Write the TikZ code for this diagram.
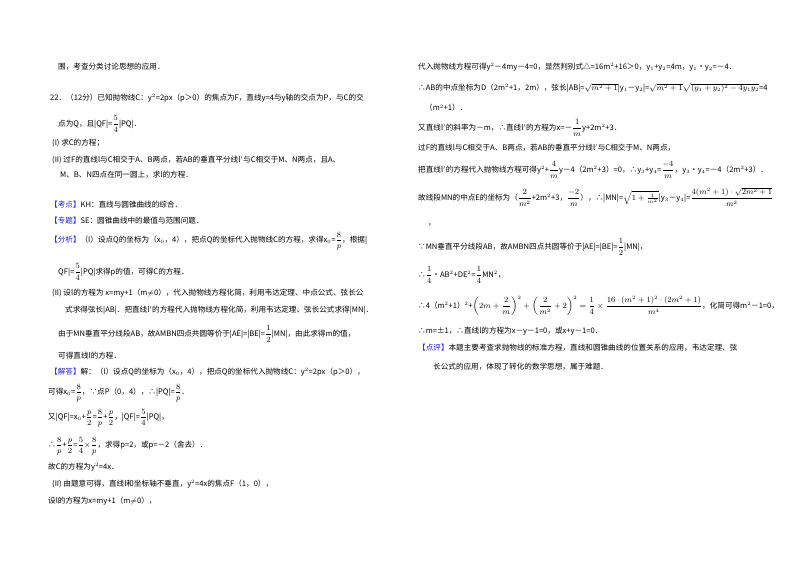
\documentclass[tikz,border=0pt]{standalone}
\usepackage{fontspec}
\setmainfont{Noto Sans CJK SC}
\usepackage{amsmath}
\definecolor{kb}{RGB}{30,30,230}
\newcommand{\kt}[1]{\textcolor{kb}{【#1】}}
\newcommand{\fr}[2]{\ensuremath{\dfrac{#1}{#2}}}
\begin{document}
\begin{tikzpicture}[x=1pt,y=-1pt,t/.style={anchor=west,inner sep=0,font=\fontsize{7.6}{9}\selectfont}]
\useasboundingbox (0,0) rectangle (800,565);
\fill[white] (0,0) rectangle (800,565);
% left column
\node[t] (l1) at (58,67) {围，考查分类讨论思想的应用．};
\node[t] (l2) at (50,98) {22．（12分）已知抛物线C：y$^2$=2px（p＞0）的焦点为F，直线y=4与y轴的交点为P，与C的交};
\node[t] (l3) at (58,124) {点为Q，且|QF|=\fr{5}{4}|PQ|．};
\node[t] (l4) at (52,143) {(I) 求C的方程；};
\node[t] (l5) at (52,160) {(II) 过F的直线l与C相交于A、B两点，若AB的垂直平分线l$'$与C相交于M、N两点，且A、};
\node[t] (l6) at (60,175) {M、B、N四点在同一圆上，求l的方程．};
\node[t] (l7) at (50,205) {\kt{考点}KH：直线与圆锥曲线的综合．};
\node[t] (l8) at (50,221) {\kt{专题}SE：圆锥曲线中的最值与范围问题．};
\node[t] (l9) at (50,241) {\kt{分析}（I）设点Q的坐标为（x$_0$，4），把点Q的坐标代入抛物线C的方程，求得x$_0$=\fr{8}{p}，根据|};
\node[t] (l10) at (58,272) {QF|=\fr{5}{4}|PQ|求得p的值，可得C的方程．};
\node[t] (l11) at (52,293) {(II) 设l的方程为 x=my+1（m$\neq$0），代入抛物线方程化简，利用韦达定理、中点公式、弦长公};
\node[t] (l12) at (65,310) {式求得弦长|AB|．把直线l$'$的方程代入抛物线方程化简，利用韦达定理、弦长公式求得|MN|．};
\node[t] (l13) at (58,334) {由于MN垂直平分线段AB，故AMBN四点共圆等价于|AE|=|BE|=\fr{1}{2}|MN|，由此求得m的值，};
\node[t] (l14) at (58,356) {可得直线l的方程．};
\node[t] (l15) at (50,372) {\kt{解答}解：（I）设点Q的坐标为（x$_0$，4），把点Q的坐标代入抛物线C：y$^2$=2px（p＞0），};
\node[t] (l16) at (48,393) {可得x$_0$=\fr{8}{p}，∵点P（0，4），∴|PQ|=\fr{8}{p}．};
\node[t] (l17) at (48,418) {又|QF|=x$_0$+\fr{p}{2}=\fr{8}{p}+\fr{p}{2}，|QF|=\fr{5}{4}|PQ|，};
\node[t] (l18) at (48,446) {∴\fr{8}{p}+\fr{p}{2}=\fr{5}{4}$\times$\fr{8}{p}，求得p=2，或p=－2（舍去）．};
\node[t] (l19) at (48,467) {故C的方程为y$^2$=4x．};
\node[t] (l20) at (52,484) {(II) 由题意可得，直线l和坐标轴不垂直，y$^2$=4x的焦点F（1，0），};
\node[t] (l21) at (48,501) {设l的方程为x=my+1（m$\neq$0），};
% right column
\node[t] (r1) at (418,67) {代入抛物线方程可得y$^2$－4my－4=0，显然判别式△=16m$^2$+16＞0，y$_1$+y$_2$=4m，y$_1$•y$_2$=－4．};
\node[t] (r2) at (418,88) {∴AB的中点坐标为D（2m$^2$+1，2m），弦长|AB|=$\sqrt{m^2+1}$|y$_1$－y$_2$|=$\sqrt{m^2+1}\sqrt{(y_1+y_2)^2-4y_1y_2}$=4};
\node[t] (r3) at (425,108) {（m$^2$+1）．};
\node[t] (r4) at (418,128) {又直线l$'$的斜率为－m，∴直线l$'$的方程为x=－\fr{1}{m}y+2m$^2$+3．};
\node[t] (r5) at (418,148) {过F的直线l与C相交于A、B两点，若AB的垂直平分线l$'$与C相交于M、N两点，};
\node[t] (r6) at (418,170) {把直线l$'$的方程代入抛物线方程可得y$^2$+\fr{4}{m}y－4（2m$^2$+3）=0，∴y$_3$+y$_4$=\fr{-4}{m}，y$_3$•y$_4$=－4（2m$^2$+3）．};
\node[t] (r7) at (418,197) {故线段MN的中点E的坐标为（\fr{2}{m^2}+2m$^2$+3，\fr{-2}{m}），∴|MN|=$\sqrt{1+\frac{1}{m^2}}$|y$_3$－y$_4$|=\fr{4(m^2+1)\cdot\sqrt{2m^2+1}}{m^2}};
\node[t] (r8) at (428,225) {，};
\node[t] (r9) at (418,247) {∵MN垂直平分线段AB，故AMBN四点共圆等价于|AE|=|BE|=\fr{1}{2}|MN|，};
\node[t] (r10) at (418,275) {∴\fr{1}{4}•AB$^2$+DE$^2$=\fr{1}{4}MN$^2$，};
\node[t] (r11) at (418,306) {∴4（m$^2$+1）$^2$+$\left(2m+\dfrac{2}{m}\right)^2+\left(\dfrac{2}{m^2}+2\right)^2=\dfrac{1}{4}\times\dfrac{16\cdot(m^2+1)^2\cdot(2m^2+1)}{m^4}$，化简可得m$^2$－1=0，};
\node[t] (r12) at (418,331) {∴m=±1，∴直线l的方程为x－y－1=0，或x+y－1=0．};
\node[t] (r13) at (418,348) {\kt{点评}本题主要考查求抛物线的标准方程，直线和圆锥曲线的位置关系的应用，韦达定理、弦};
\node[t] (r14) at (433,367) {长公式的应用，体现了转化的数学思想，属于难题．};
\end{tikzpicture}
\end{document}
